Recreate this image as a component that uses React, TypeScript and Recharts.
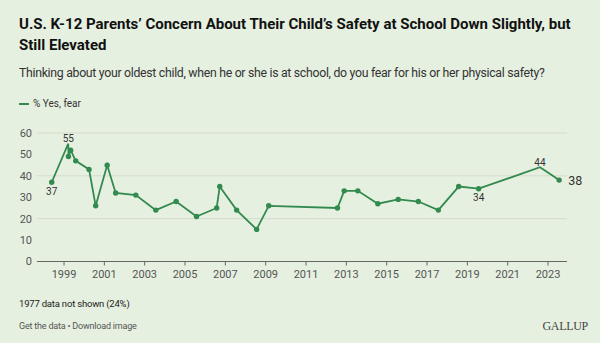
import React from "react";
import { LineChart, Line, XAxis, YAxis, CartesianGrid, LabelList } from "recharts";

const years = [1998.39, 1999.21, 1999.22, 1999.33, 1999.58, 2000.24, 2000.57, 2001.14, 2001.56, 2002.56, 2003.55, 2004.56, 2005.57, 2006.57, 2006.72, 2007.56, 2008.55, 2009.15, 2012.56, 2012.89, 2013.57, 2014.56, 2015.57, 2016.57, 2017.56, 2018.57, 2019.56, 2022.6, 2023.55];
const values = [37, 55, 49, 52, 47, 43, 26, 45, 32, 31, 24, 28, 21, 25, 35, 24, 15, 26, 25, 33, 33, 27, 29, 28, 24, 35, 34, 44, 38];
const xTicks = [1999, 2001, 2003, 2005, 2007, 2009, 2011, 2013, 2015, 2017, 2019, 2021, 2023];
const yTicks = [0, 10, 20, 30, 40, 50, 60];
const labeledIndexes = [0, 1, 26, 27, 28];

const data = years.map((y, i) => ({ year: y, value: values[i] }));

const GREEN = "#338a4e";
const FONT = "Roboto, 'Noto Sans', sans-serif";

const placement: Record<number, "top" | "bottom" | "right"> = {
  0: "bottom",
  1: "top",
  26: "bottom",
  27: "top",
  28: "right",
};
const hiddenDots = [1, 27];

const renderDot = (props: any) => {
  const { cx, cy, index } = props;
  if (hiddenDots.includes(index)) return <g key={`d${index}`} />;
  return <circle key={`d${index}`} cx={cx} cy={cy} r={2.7} fill={GREEN} stroke="none" />;
};

const renderLabel = (props: any) => {
  const { x, y, index, value } = props;
  if (!labeledIndexes.includes(index)) return null;
  const p = placement[index];
  if (p === "right") {
    return (
      <text x={x + 9} y={y + 4.5} fontSize={12.5} fill="#333" fontFamily={FONT}>
        {value}
      </text>
    );
  }
  const dy = p === "top" ? -1.5 : 12.5;
  return (
    <text x={x} y={y + dy} fontSize={10} fill="#333" textAnchor="middle" fontFamily={FONT}>
      {value}
    </text>
  );
};

export default function App() {
  return (
    <div
      style={{
        position: "fixed",
        left: 0,
        top: 0,
        width: 600,
        height: 343,
        background: "#e6f0e0",
        fontFamily: FONT,
        overflow: "hidden",
      }}
    >
      <div style={{ position: "absolute", left: 19, top: 14, width: 575, fontSize: 15, fontWeight: 700, lineHeight: "21px", color: "#111", whiteSpace: "nowrap" }}>
        U.S. K-12 Parents’ Concern About Their Child’s Safety at School Down Slightly, but
        <br />
        Still Elevated
      </div>
      <div style={{ position: "absolute", left: 19, top: 65, fontSize: 12.3, lineHeight: "16px", color: "#333", whiteSpace: "nowrap", letterSpacing: -0.3 }}>
        Thinking about your oldest child, when he or she is at school, do you fear for his or her physical safety?
      </div>
      <div style={{ position: "absolute", left: 19, top: 98, fontSize: 10, lineHeight: "12px", color: "#333", display: "flex", alignItems: "center" }}>
        <span style={{ display: "inline-block", width: 10, height: 2, background: GREEN, marginRight: 4 }} />
        % Yes, fear
      </div>
      <div style={{ position: "absolute", left: 0, top: 120 }}>
        <LineChart width={600} height={170} data={data} margin={{ top: 13, right: 33, bottom: 0, left: 0 }}>
          <CartesianGrid vertical={false} stroke="#d3dccd" strokeWidth={1} />
          <XAxis
            dataKey="year"
            type="number"
            domain={[1997.66, 2023.94]}
            ticks={xTicks}
            allowDataOverflow
            height={28.5}
            tickSize={4}
            tickMargin={5}
            stroke="#666"
            tickLine={{ stroke: "#666" }}
            tick={{ fontSize: 11, fill: "#555", fontFamily: FONT }}
            interval={0}
          />
          <YAxis
            type="number"
            domain={[0, 60]}
            ticks={yTicks}
            width={37}
            axisLine={false}
            tickLine={false}
            tickSize={0}
            tickMargin={5}
            tick={{ fontSize: 11, fill: "#555", fontFamily: FONT }}
          />
          <Line
            type="linear"
            dataKey="value"
            stroke={GREEN}
            strokeWidth={1.8}
            dot={renderDot}
            activeDot={false}
            isAnimationActive={false}
          >
            <LabelList dataKey="value" content={renderLabel} />
          </Line>
        </LineChart>
      </div>
      <div style={{ position: "absolute", left: 19, top: 298, fontSize: 9.5, color: "#222", letterSpacing: -0.2 }}>1977 data not shown (24%)</div>
      <div style={{ position: "absolute", left: 19, top: 321, fontSize: 9, color: "#555", letterSpacing: -0.2 }}>Get the data • Download image</div>
      <div style={{ position: "absolute", right: 12, top: 319, fontSize: 12, color: "#444", fontFamily: "'Liberation Serif', 'DejaVu Serif', serif", letterSpacing: -0.3 }}>GALLUP</div>
    </div>
  );
}
